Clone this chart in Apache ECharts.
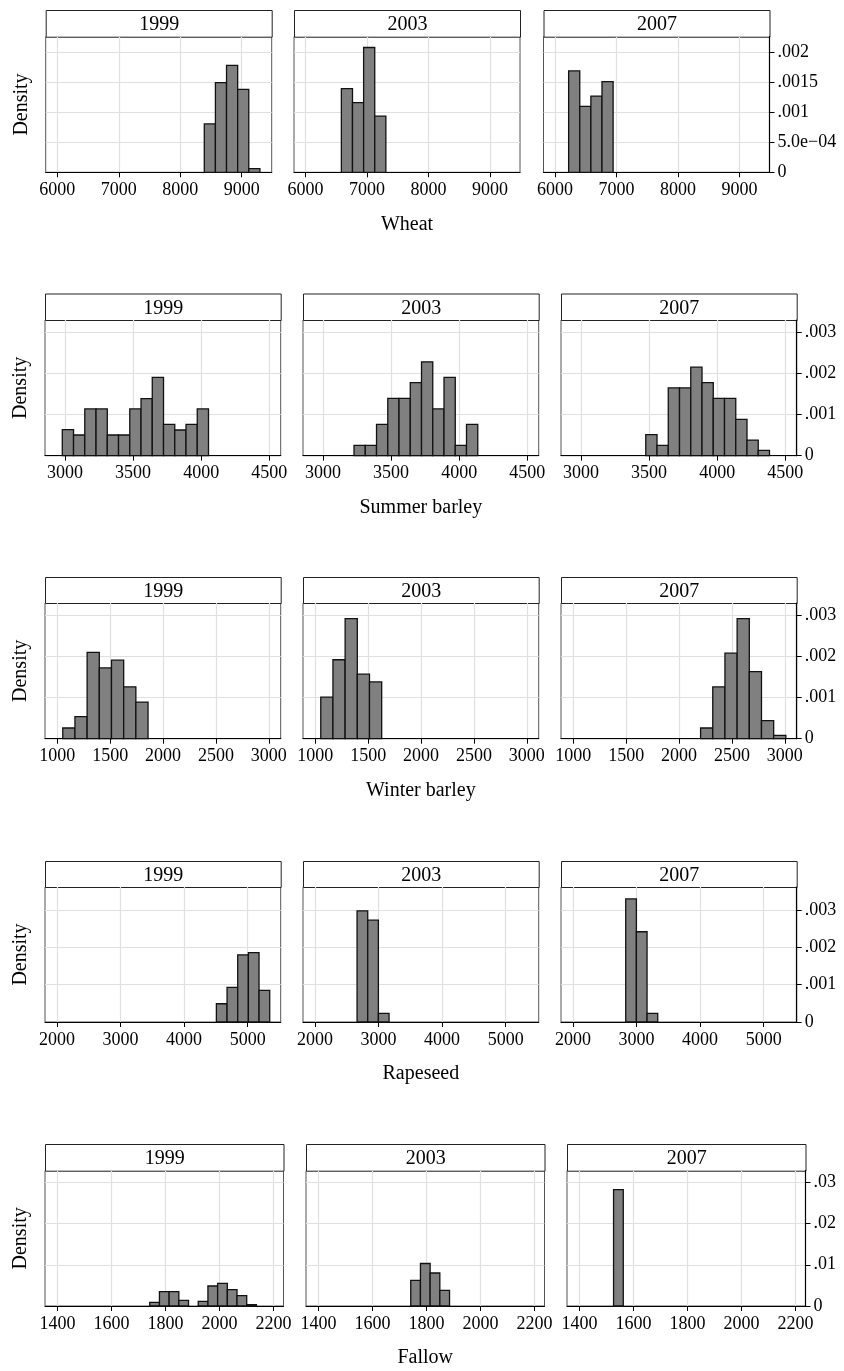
<!DOCTYPE html>
<html>
<head>
<meta charset="utf-8">
<script src="https://cdn.jsdelivr.net/npm/echarts@6/dist/echarts.min.js"></script>
<style>
  html, body { margin: 0; padding: 0; background: #ffffff; }
  #chart { width: 844px; height: 1371px; }
</style>
</head>
<body>
<div id="chart"></div>
<script>
// ---------------- data ----------------
const years = ['1999', '2003', '2007'];
const crops = ['Wheat', 'Summer barley', 'Winter barley', 'Rapeseed', 'Fallow'];

// Histogram bins shared by the three years of each crop
const binStart = [6220, 2980, 1052, 2663, 1526.4];
const binWidth = [181, 82.6, 115.2, 167.7, 35.9];

// Densities per bin
const wheat1999 = [0, 0, 0, 0, 0, 0, 0, 0, 0, 0, 0, 0, 0.000806, 0.001494, 0.001783, 0.001383, 0.000061];
const wheat2003 = [0, 0, 0.001395, 0.00116, 0.00208, 0.000936, 0, 0, 0, 0, 0, 0, 0, 0, 0, 0, 0];
const wheat2007 = [0.00169, 0.0011, 0.00127, 0.00151, 0, 0, 0, 0, 0, 0, 0, 0, 0, 0, 0, 0, 0];

const summer1999 = [0.000631, 0.000502, 0.001133, 0.001133, 0.000502, 0.000502, 0.001133, 0.001383, 0.001901, 0.00076, 0.000623, 0.00076, 0.001133, 0, 0, 0, 0];
const summer2003 = [0, 0, 0, 0.000251, 0.000251, 0.000761, 0.00139, 0.00139, 0.00177, 0.002275, 0.001134, 0.0019, 0.000251, 0.000761, 0, 0, 0];
const summer2007 = [0, 0, 0, 0, 0, 0, 0.00051, 0.000251, 0.001644, 0.001644, 0.002146, 0.001773, 0.00139, 0.00139, 0.000883, 0.00038, 0.00013];

const winter1999 = [0.00026, 0.000535, 0.0021, 0.00172, 0.00191, 0.00126, 0.00089, 0, 0, 0, 0, 0, 0, 0, 0, 0, 0];
const winter2003 = [0.00101, 0.00192, 0.00292, 0.00157, 0.00138, 0, 0, 0, 0, 0, 0, 0, 0, 0, 0, 0, 0];
const winter2007 = [0, 0, 0, 0, 0, 0, 0, 0, 0, 0, 0.00026, 0.00126, 0.00208, 0.00292, 0.00163, 0.00044, 0.00008];

const rape1999 = [0, 0, 0, 0, 0, 0, 0, 0, 0, 0, 0, 0.00049, 0.00093, 0.0018, 0.00186, 0.00085];
const rape2003 = [0.00298, 0.00273, 0.00023, 0, 0, 0, 0, 0, 0, 0, 0, 0, 0, 0, 0, 0];
const rape2007 = [0, 0.0033, 0.00242, 0.00023, 0, 0, 0, 0, 0, 0, 0, 0, 0, 0, 0, 0];

const fallow1999 = [0, 0, 0, 0, 0, 0, 0.00089, 0.00348, 0.00348, 0.00137, 0, 0.00113, 0.00485, 0.0055, 0.00396, 0.0025, 0.00032];
const fallow2003 = [0, 0, 0, 0, 0, 0, 0.0062, 0.0103, 0.008, 0.0038, 0, 0, 0, 0, 0, 0, 0];
const fallow2007 = [0.0282, 0, 0, 0, 0, 0, 0, 0, 0, 0, 0, 0, 0, 0, 0, 0, 0];

const densities = [
  [wheat1999, wheat2003, wheat2007],
  [summer1999, summer2003, summer2007],
  [winter1999, winter2003, winter2007],
  [rape1999, rape2003, rape2007],
  [fallow1999, fallow2003, fallow2007]
];

// Axis scales and ticks
const xRange = [[5811, 9489], [2853, 4584], [884, 3113], [1813, 5519], [1354, 2237]];
const xTicks = [
  [6000, 7000, 8000, 9000],
  [3000, 3500, 4000, 4500],
  [1000, 1500, 2000, 2500, 3000],
  [2000, 3000, 4000, 5000],
  [1400, 1600, 1800, 2000, 2200]
];
const yMax = [0.00226, 0.00329, 0.0033, 0.00362, 0.0328];
const yTicks = [
  [0, 0.0005, 0.001, 0.0015, 0.002],
  [0, 0.001, 0.002, 0.003],
  [0, 0.001, 0.002, 0.003],
  [0, 0.001, 0.002, 0.003],
  [0, 0.01, 0.02, 0.03]
];
const yTickLabels = [
  ['0', '5.0e\u221204', '.001', '.0015', '.002'],
  ['0', '.001', '.002', '.003'],
  ['0', '.001', '.002', '.003'],
  ['0', '.001', '.002', '.003'],
  ['0', '.01', '.02', '.03']
];

// ---------------- layout ----------------
const rowLayout = [
  { headTop: 10,    top: 36.7,   bottom: 172.3, lefts: [45.7, 294, 543.5], width: 226 },
  { headTop: 293.5, top: 320,    bottom: 455.7, lefts: [45, 303, 561],     width: 235.7 },
  { headTop: 577,   top: 603,    bottom: 738.7, lefts: [45, 303, 561],     width: 235.7 },
  { headTop: 861,   top: 887,    bottom: 1022,  lefts: [45, 303, 561],     width: 235.7 },
  { headTop: 1144,  top: 1170.7, bottom: 1306,  lefts: [45, 306, 567],     width: 238.5 }
];

const FONT = 'Liberation Serif, Times New Roman, serif';
const GRIDLINE = '#e0e0e0';

const grids = [], xAxes = [], yAxes = [], series = [], graphics = [];

function yLabel(r, v) {
  const ticks = yTicks[r];
  for (let i = 0; i < ticks.length; i++) {
    if (Math.abs(ticks[i] - v) < 1e-9) return yTickLabels[r][i];
  }
  return '';
}

crops.forEach((crop, r) => {
  const L = rowLayout[r];
  years.forEach((year, c) => {
    const idx = grids.length;
    const left = L.lefts[c];
    grids.push({
      left: left, top: L.top, width: L.width, height: L.bottom - L.top,
      show: true, borderColor: '#555', borderWidth: 1, backgroundColor: '#fff',
      containLabel: false, outerBoundsMode: 'none'
    });

    xAxes.push({
      gridIndex: idx, type: 'value', min: xRange[r][0], max: xRange[r][1],
      name: c === 1 ? crop : '', nameLocation: 'middle', nameGap: 42,
      nameTextStyle: { fontFamily: FONT, fontSize: 20, color: '#000' },
      axisLine: { show: true, onZero: false, lineStyle: { color: '#000', width: 1.2 } },
      axisTick: { show: true, length: 5, customValues: xTicks[r], lineStyle: { color: '#000', width: 1 } },
      axisLabel: {
        customValues: xTicks[r], fontFamily: FONT, fontSize: 18, color: '#000', margin: 9,
        formatter: v => String(Math.round(v))
      },
      splitLine: { show: true, lineStyle: { color: GRIDLINE, width: 1.2 } }
    });

    const isRight = c === 2;
    yAxes.push({
      gridIndex: idx, type: 'value', min: 0, max: yMax[r],
      position: isRight ? 'right' : 'left',
      name: c === 0 ? 'Density' : '', nameLocation: 'middle', nameRotate: 90, nameGap: 14,
      nameTextStyle: { fontFamily: FONT, fontSize: 20, color: '#000' },
      axisLine: { show: isRight, lineStyle: { color: '#000', width: 1.2 } },
      axisTick: { show: isRight, length: 5, customValues: yTicks[r], lineStyle: { color: '#000', width: 1 } },
      axisLabel: {
        show: isRight, customValues: yTicks[r], fontFamily: FONT, fontSize: 18, color: '#000', margin: 8,
        formatter: v => yLabel(r, v)
      },
      splitLine: { show: true, lineStyle: { color: GRIDLINE, width: 1.2 } }
    });

    const dens = densities[r][c];
    const data = dens.map((d, i) => [binStart[r] + i * binWidth[r], binStart[r] + (i + 1) * binWidth[r], d]);
    series.push({
      type: 'custom', xAxisIndex: idx, yAxisIndex: idx, data: data, z: 5, clip: false,
      renderItem: function (params, api) {
        const h = api.value(2);
        if (!h) return null;
        const p0 = api.coord([api.value(0), h]);
        const p1 = api.coord([api.value(1), 0]);
        return {
          type: 'rect',
          shape: { x: p0[0], y: p0[1], width: p1[0] - p0[0], height: p1[1] - p0[1] },
          style: { fill: '#808080', stroke: '#111', lineWidth: 1.3 }
        };
      }
    });

    // year strip above each panel
    graphics.push({
      type: 'group', left: left, top: L.headTop,
      children: [
        { type: 'rect', shape: { x: 0, y: 0, width: L.width, height: L.top - L.headTop },
          style: { fill: '#fff', stroke: '#222', lineWidth: 1 } },
        { type: 'text', x: L.width / 2, y: (L.top - L.headTop) / 2 + 1,
          style: { text: year, fontFamily: FONT, fontSize: 20, fill: '#000', align: 'center', verticalAlign: 'middle' } }
      ]
    });
  });
});

const chart = echarts.init(document.getElementById('chart'), null, { renderer: 'canvas' });
chart.setOption({
  animation: false,
  backgroundColor: '#ffffff',
  grid: grids,
  xAxis: xAxes,
  yAxis: yAxes,
  series: series,
  graphic: graphics
});
</script>
</body>
</html>
